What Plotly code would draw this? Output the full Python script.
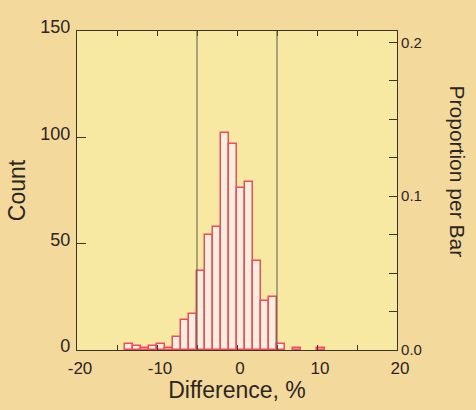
import plotly.graph_objects as go

# ---- data ----
bin_left = [-14, -13, -12, -11, -10, -9, -8, -7, -6, -5, -4, -3, -2, -1, 0, 1, 2, 3, 4, 5, 7, 10]
counts = [3, 2, 1, 2, 3, 1, 6, 14, 17, 37, 54, 58, 102, 97, 76, 79, 42, 23, 25, 3, 1, 1]
bin_width = 1
limits = [-5, 5]

x_ticks = [-20, -15, -10, -5, 0, 5, 10, 15, 20]
x_labels = ["-20", "", "-10", "", "0", "", "10", "", "20"]
y_ticks = [0, 50, 100, 150]
prop_ticks = [0, 0.025, 0.05, 0.075, 0.1, 0.125, 0.15, 0.175, 0.2]
prop_labels = ["0.0", "", "", "", "0.1", "", "", "", "0.2"]
prop_max = 0.2074

centers = [b + bin_width / 2 for b in bin_left]

FONT = "Liberation Sans, Arial, Helvetica, sans-serif"
TXT = "#2b2622"
AX = "#3a3428"
PAPER = "#F4D99D"

fig = go.Figure()
fig.add_trace(go.Bar(
    x=centers, y=counts, width=bin_width,
    marker=dict(color="#F6EFDD", line=dict(color="#EE4B5E", width=1.5)),
    showlegend=False, hoverinfo="skip",
))
fig.add_trace(go.Scatter(
    x=[0], y=[0], yaxis="y2", mode="markers",
    marker=dict(opacity=0), showlegend=False, hoverinfo="skip",
))

for v in limits:
    fig.add_shape(type="line", x0=v, x1=v, y0=0, y1=1, xref="x", yref="paper",
                  line=dict(color="#5e5a48", width=1))

fig.update_layout(
    width=476, height=410,
    margin=dict(l=77, r=79, t=31, b=60, autoexpand=False),
    paper_bgcolor=PAPER,
    plot_bgcolor="#F8E9A2",
    bargap=0,
    font=dict(family=FONT, color=TXT),
    xaxis=dict(
        range=[-20, 20], tickmode="array", tickvals=x_ticks, ticktext=x_labels,
        ticks="inside", ticklen=5, tickcolor=AX, showline=True, linecolor=AX,
        linewidth=1.2, mirror="ticks", showgrid=False, zeroline=False,
        automargin=False, ticklabelstandoff=2, ticklabelshift=3,
        tickfont=dict(size=17, color=TXT),
        title=dict(text="Difference, %", font=dict(size=23, color=TXT), standoff=5),
    ),
    yaxis=dict(
        range=[0, 150], tickmode="array", tickvals=y_ticks,
        ticks="inside", ticklen=9, tickcolor=AX, showline=True, linecolor=AX,
        linewidth=1.2, showgrid=False, zeroline=False, automargin=False,
        tickfont=dict(size=18, color=TXT), ticklabelshift=-4, ticklabelstandoff=2,
        title=dict(text="Count", font=dict(size=23, color=TXT), standoff=8),
    ),
    yaxis2=dict(
        overlaying="y", side="right", range=[0, prop_max],
        tickmode="array", tickvals=prop_ticks, ticktext=prop_labels,
        ticks="inside", ticklen=8, tickcolor=AX, showline=True, linecolor=AX,
        linewidth=1.2, showgrid=False, zeroline=False, automargin=False,
        tickfont=dict(size=15, color=TXT),
    ),
    annotations=[dict(
        text="Proportion per Bar", textangle=90, xref="paper", yref="paper",
        x=1.19, y=0.56, xanchor="center", yanchor="middle", showarrow=False,
        font=dict(size=21, color=TXT),
    )],
)

fig.write_html(
    "out.html",
    config={"displayModeBar": False},
    post_script="document.body.style.margin='0';document.body.style.background='" + PAPER + "';",
)
